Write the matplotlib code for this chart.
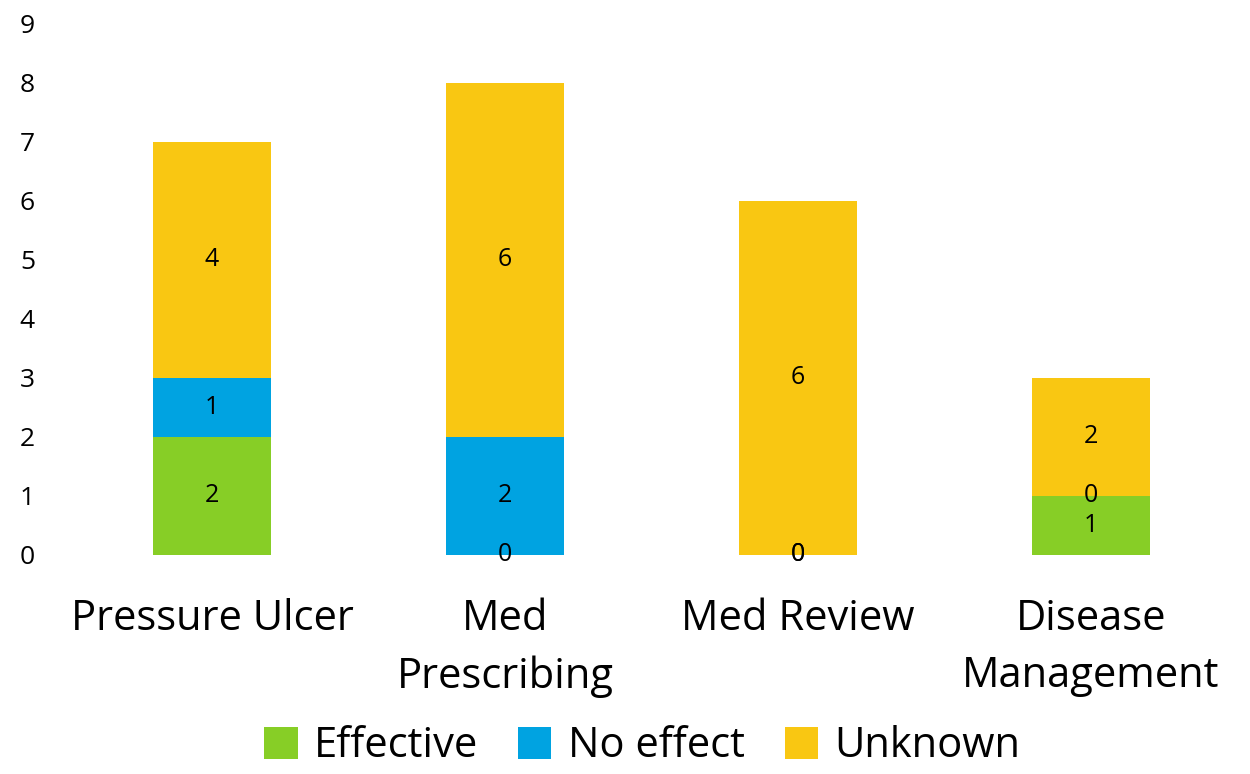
import numpy as np
import matplotlib.pyplot as plt

categories = ["Pressure Ulcer", "Med\nPrescribing", "Med Review", "Disease\nManagement"]
effective = [2, 0, 0, 1]
no_effect = [1, 2, 0, 0]
unknown = [4, 6, 6, 2]
series_names = ["Effective", "No effect", "Unknown"]
colors = ["#87CE26", "#00A3E1", "#F9C712"]

plt.rcParams['font.family'] = ['Open Sans', 'DejaVu Sans']

fig = plt.figure(figsize=(12.5, 7.74), dpi=100)
ax = fig.add_axes([0.0524, 0.283, 0.9376, 0.686])

x = np.arange(len(categories))
bottom = np.zeros(len(categories))
for vals, name, col in zip([effective, no_effect, unknown], series_names, colors):
    bars = ax.bar(x, vals, width=0.4, bottom=bottom, color=col, label=name)
    # label each segment at its centre, including zero-height ones
    for xi, b, v in zip(x, bottom, vals):
        ax.text(xi, b + v / 2, str(v), ha='center', va='center', fontsize=18, color='black')
    bottom = bottom + np.array(vals)

ax.set_xlim(-0.5, 3.5)
ax.set_ylim(0, 9)
ax.set_yticks(range(0, 10))
ax.set_xticks(x)
ax.set_xticklabels(categories, fontsize=30, linespacing=1.47)
ax.tick_params(axis='both', length=0)
ax.tick_params(axis='y', labelsize=19, pad=22)
ax.tick_params(axis='x', pad=31)
for s in ax.spines.values():
    s.set_visible(False)

fig.legend(loc='lower center', bbox_to_anchor=(0.514, -0.04), ncol=3, frameon=False,
           fontsize=30, handlelength=0.8, handleheight=0.8, handletextpad=0.4,
           columnspacing=0.95)

fig.savefig("out.png", dpi=100)
